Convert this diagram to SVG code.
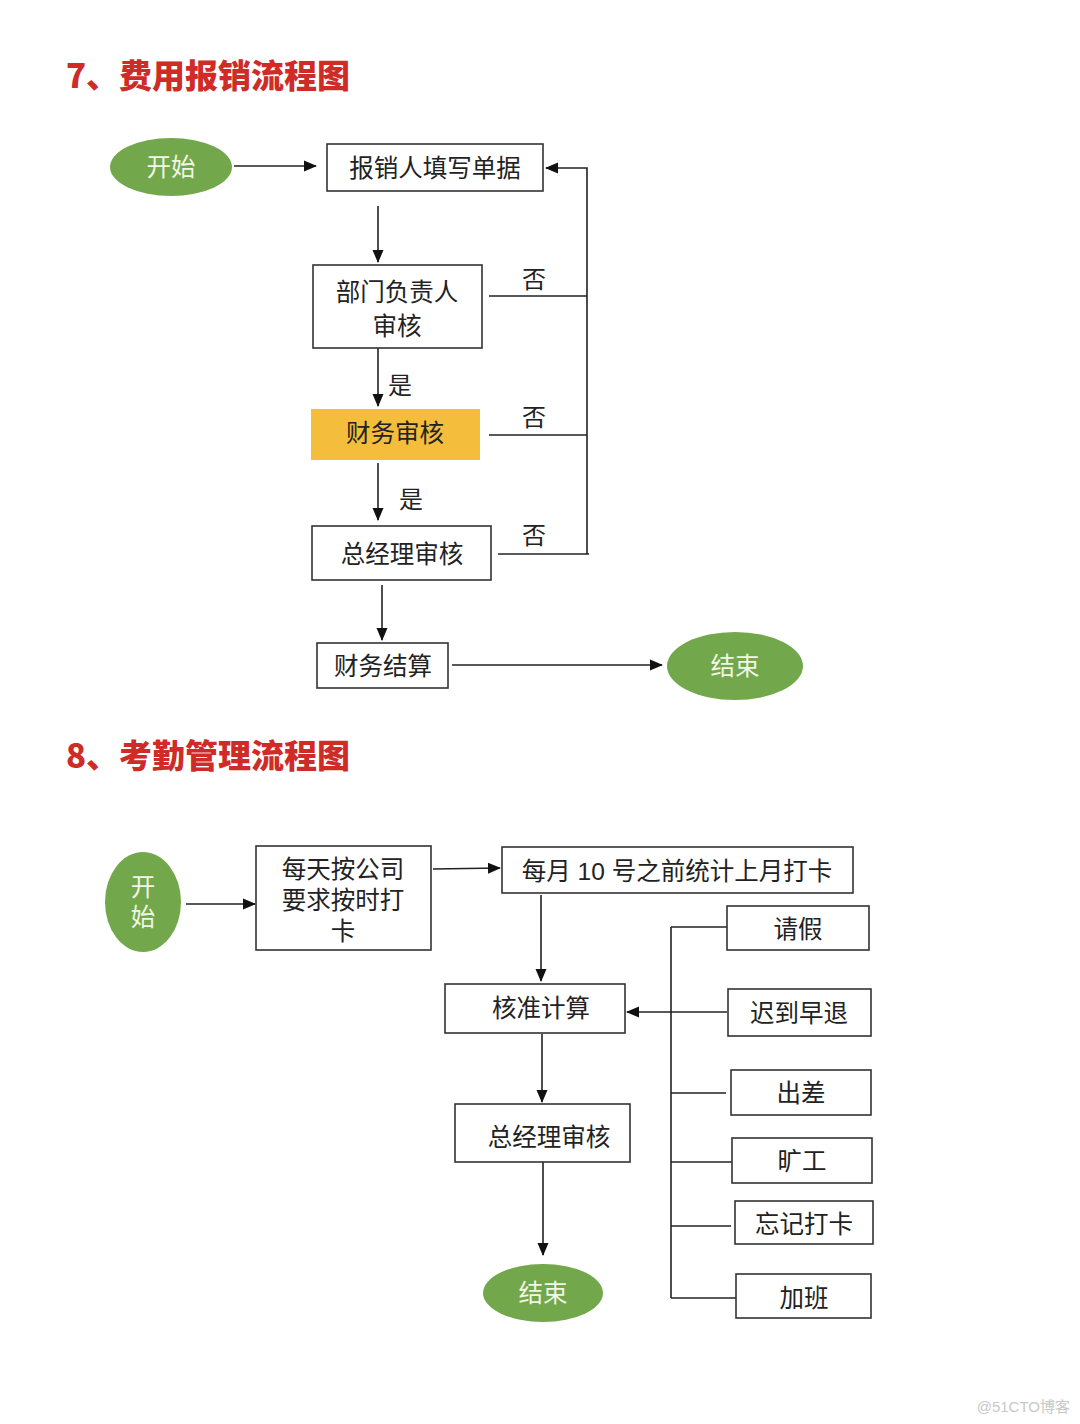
<svg xmlns="http://www.w3.org/2000/svg" width="1080" height="1424" viewBox="0 0 1080 1424">
<defs>
<marker id="ah" markerWidth="13" markerHeight="12" viewBox="0 0 13 12" refX="12" refY="6" orient="auto" markerUnits="userSpaceOnUse">
<path d="M0,0.5 L13,6 L0,11.5 Z" fill="#111"/>
</marker>
<style>
.t{font-family:"Liberation Sans","Noto Sans CJK SC",sans-serif;font-size:24.5px;fill:#222;text-anchor:middle;dominant-baseline:central}
.w{fill:#f1f6e6}
.title{font-family:"Noto Sans CJK SC",sans-serif;font-size:33px;font-weight:900;fill:#cf2b27}
.box{fill:#fff;stroke:#333;stroke-width:1.6}
.el{fill:#72a84b}
.c{stroke:#222;stroke-width:1.6;fill:none}
.a{stroke:#222;stroke-width:1.6;fill:none;marker-end:url(#ah)}
.lbl{font-family:"Noto Sans CJK SC",sans-serif;font-size:24px;fill:#222;text-anchor:middle;dominant-baseline:central}
</style>
</defs>
<rect width="1080" height="1424" fill="#fff"/>
<text class="title" x="66" y="88">7、费用报销流程图</text>
<text class="title" x="66" y="768">8、考勤管理流程图</text>

<g id="connectors">
<line class="a" x1="234" y1="166" x2="316" y2="166"/>
<line class="a" x1="378" y1="206" x2="378" y2="262"/>
<line class="c" x1="489" y1="296" x2="587" y2="296"/>
<polyline class="a" points="587,554 587,168 546,168"/>
<line class="a" x1="378" y1="348" x2="378" y2="406"/>
<line class="c" x1="489" y1="435" x2="587" y2="435"/>
<line class="a" x1="378" y1="463" x2="378" y2="520"/>
<line class="c" x1="498" y1="554" x2="589" y2="554"/>
<line class="a" x1="382" y1="585" x2="382" y2="640"/>
<line class="a" x1="452" y1="665" x2="662" y2="665"/>

<line class="a" x1="186" y1="904" x2="255" y2="904"/>
<line class="a" x1="433" y1="869" x2="500" y2="868"/>
<line class="a" x1="541" y1="895" x2="541" y2="981"/>
<line class="a" x1="727" y1="1012" x2="627" y2="1012"/>
<line class="c" x1="671" y1="927" x2="671" y2="1298"/>
<line class="c" x1="671" y1="927" x2="727" y2="927"/>
<line class="c" x1="671" y1="1093" x2="726" y2="1093"/>
<line class="c" x1="671" y1="1162" x2="732" y2="1162"/>
<line class="c" x1="671" y1="1226" x2="731" y2="1226"/>
<line class="c" x1="671" y1="1298" x2="736" y2="1298"/>
<line class="a" x1="542" y1="1034" x2="542" y2="1102"/>
<line class="a" x1="543" y1="1162" x2="543" y2="1255"/>
</g>

<g id="labels">
<text class="lbl" x="534" y="277">否</text>
<text class="lbl" x="534" y="415">否</text>
<text class="lbl" x="534" y="533">否</text>
<text class="lbl" x="400" y="383">是</text>
<text class="lbl" x="411" y="497">是</text>
</g>

<g id="start7"><ellipse class="el" cx="171" cy="167" rx="61" ry="29"/><text class="t w" x="171" y="167">开始</text></g>
<g id="fill"><rect class="box" x="327" y="144" width="216" height="47"/><text class="t" x="435" y="168">报销人填写单据</text></g>
<g id="dept"><rect class="box" x="313" y="265" width="169" height="83"/><text class="t" x="397" y="292">部门负责人</text><text class="t" x="397" y="326">审核</text></g>
<g id="fin"><rect x="311" y="409" width="169" height="51" fill="#f4bd3c"/><text class="t" x="395" y="433">财务审核</text></g>
<g id="gm7"><rect class="box" x="312" y="526" width="179" height="54"/><text class="t" x="402" y="554">总经理审核</text></g>
<g id="settle"><rect class="box" x="317" y="643" width="131" height="45"/><text class="t" x="383" y="666">财务结算</text></g>
<g id="end7"><ellipse class="el" cx="735" cy="666" rx="68" ry="34"/><text class="t w" x="735" y="666">结束</text></g>

<g id="start8"><ellipse class="el" cx="143" cy="902" rx="38" ry="50"/><text class="t w" x="143" y="887">开</text><text class="t w" x="143" y="917">始</text></g>
<g id="daily"><rect class="box" x="256" y="846" width="175" height="104"/><text class="t" x="343" y="869">每天按公司</text><text class="t" x="343" y="900">要求按时打</text><text class="t" x="343" y="931">卡</text></g>
<g id="monthly"><rect class="box" x="502" y="847" width="351" height="46"/><text class="t" x="677" y="871">每月 10 号之前统计上月打卡</text></g>
<g id="calc"><rect class="box" x="445" y="984" width="180" height="49"/><text class="t" x="541" y="1008">核准计算</text></g>
<g id="gm8"><rect class="box" x="455" y="1104" width="175" height="58"/><text class="t" x="549" y="1137">总经理审核</text></g>
<g id="end8"><ellipse class="el" cx="543" cy="1293" rx="60" ry="29"/><text class="t w" x="543" y="1293">结束</text></g>
<g id="leave"><rect class="box" x="727" y="906" width="142" height="44"/><text class="t" x="798" y="929">请假</text></g>
<g id="late"><rect class="box" x="728" y="989" width="143" height="47"/><text class="t" x="799" y="1013">迟到早退</text></g>
<g id="trip"><rect class="box" x="731" y="1070" width="140" height="45"/><text class="t" x="801" y="1093">出差</text></g>
<g id="absent"><rect class="box" x="732" y="1138" width="140" height="45"/><text class="t" x="802" y="1161">旷工</text></g>
<g id="forget"><rect class="box" x="735" y="1201" width="138" height="43"/><text class="t" x="804" y="1224">忘记打卡</text></g>
<g id="ot"><rect class="box" x="736" y="1274" width="135" height="44"/><text class="t" x="804" y="1298">加班</text></g>

<text x="1070" y="1412" font-family="Liberation Sans,'Noto Sans CJK SC',sans-serif" font-size="15" fill="#c8c8c8" text-anchor="end">@51CTO博客</text>
</svg>
